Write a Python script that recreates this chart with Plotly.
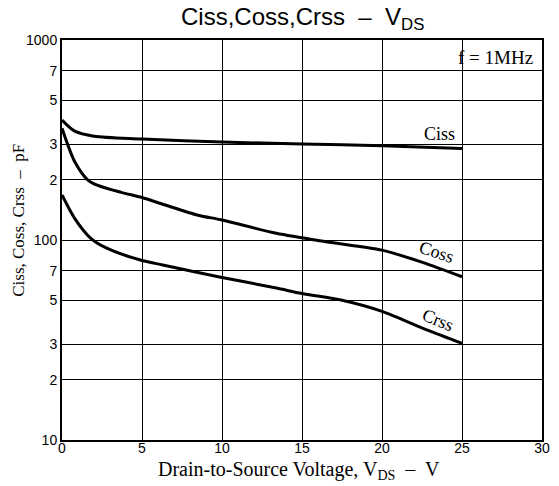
import plotly.graph_objects as go

# ---- data ----
v_ciss = [0, 0.8, 2.0, 5.0, 10.0, 15.0, 20.0, 25.0]
c_iss = [398, 350, 330, 320, 309, 302, 296, 287]

v_coss = [0, 0.8, 1.6, 2.2, 3.7, 5.0, 6.3, 8.5, 10.0, 13.4, 16.5, 20.0, 22.8, 25.0]
c_oss = [362, 246, 200, 188, 173, 163, 151, 133, 126, 108, 98, 89, 76, 65.5]

v_crss = [0, 0.8, 1.8, 2.8, 4.9, 6.3, 10.0, 13.4, 15.0, 17.5, 20.0, 22.8, 25.0]
c_rss = [168, 128, 102, 91, 79.4, 75, 65, 57.5, 54, 50, 44, 35.5, 30.4]

y_tickvals = [10, 20, 30, 50, 70, 100, 200, 300, 500, 700, 1000]
y_ticktext = ["10", "2", "3", "5", "7", "100", "2", "3", "5", "7", "1000"]
x_tickvals = [0, 5, 10, 15, 20, 25, 30]

SERIF = "Liberation Serif, Times New Roman, serif"
SANS = "Liberation Sans, Arial, sans-serif"

fig = go.Figure()
for xs, ys, name in [(v_ciss, c_iss, "Ciss"), (v_coss, c_oss, "Coss"), (v_crss, c_rss, "Crss")]:
    fig.add_trace(go.Scatter(x=xs, y=ys, mode="lines", name=name,
                             line=dict(color="black", width=3, shape="spline", smoothing=0.8),
                             showlegend=False, hoverinfo="skip"))

fig.update_layout(
    width=559, height=486,
    margin=dict(l=62, r=9, t=40, b=46),
    paper_bgcolor="white", plot_bgcolor="white",
    showlegend=False,
)
fig.update_xaxes(range=[0, 30], tickvals=x_tickvals, showgrid=True, gridcolor="black", gridwidth=1,
                 showline=True, linecolor="black", linewidth=2, mirror=True, ticks="",
                 ticklabelstandoff=-6,
                 zeroline=False, tickfont=dict(family=SANS, size=14, color="black"))
fig.update_yaxes(type="log", range=[1, 3], tickvals=y_tickvals, ticktext=y_ticktext,
                 showgrid=True, gridcolor="black", gridwidth=1,
                 showline=True, linecolor="black", linewidth=2, mirror=True, ticks="",
                 zeroline=False, tickfont=dict(family=SANS, size=14, color="black"))

anns = [
    dict(text="Ciss,Coss,Crss  –  V<sub>DS</sub>", xref="paper", yref="paper", x=0.5, y=1.0,
         yshift=22, xanchor="center", yanchor="middle", showarrow=False,
         font=dict(family=SANS, size=24, color="black")),
    dict(text="Drain-to-Source Voltage, V<sub>DS</sub>  –  V", xref="paper", yref="paper",
         x=0.494, y=-0.075, xanchor="center", yanchor="middle", showarrow=False,
         font=dict(family=SERIF, size=20, color="black")),
    dict(text="Ciss, Coss, Crss  –  pF", xref="paper", yref="paper", x=-0.09, y=0.55,
         xanchor="center", yanchor="middle", textangle=-90, showarrow=False,
         font=dict(family=SERIF, size=17, color="black")),
    dict(text="f = 1MHz", xref="x", yref="y", x=29.55, y=2.915, xanchor="right", yanchor="middle",
         showarrow=False, font=dict(family=SERIF, size=19, color="black")),
    dict(text="Ciss", xref="x", yref="y", x=23.6, y=2.53, xanchor="center", yanchor="middle",
         showarrow=False, font=dict(family=SERIF, size=18, color="black")),
    dict(text="Coss", xref="x", yref="y", x=23.4, y=1.94, xanchor="center", yanchor="middle",
         textangle=18, showarrow=False, font=dict(family=SERIF, size=18, color="black")),
    dict(text="Crss", xref="x", yref="y", x=23.5, y=1.6, xanchor="center", yanchor="middle",
         textangle=22, showarrow=False, font=dict(family=SERIF, size=18, color="black")),
]
fig.update_layout(annotations=anns)

fig.write_html("out.html", config={"displayModeBar": False},
               post_script="document.body.style.margin='0';document.body.style.padding='0';"
                           "document.body.style.overflow='hidden';")
